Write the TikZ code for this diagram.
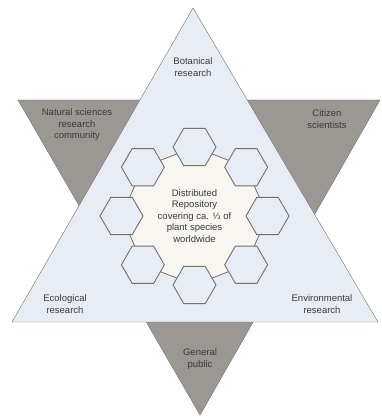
\documentclass[tikz,border=0pt]{standalone}
\usepackage{fontspec}
\setmainfont{Liberation Sans}
\newfontfamily\fracfont{DejaVu Sans}
\usetikzlibrary{shapes.geometric}

\definecolor{paleblue}{HTML}{E8EDF5}
\definecolor{stone}{HTML}{9B9792}
\definecolor{cream}{HTML}{F8F6F1}
\definecolor{linegray}{HTML}{707070}
\definecolor{textgray}{HTML}{3A3A3A}

\begin{document}
\begin{tikzpicture}[
  x=1pt,y=1pt,
  caption/.style={align=center,font=\fontsize{9.5}{11.5}\selectfont,text=textgray,inner sep=0pt},
  hexcell/.style={draw=linegray,line width=.9pt,fill=paleblue,regular polygon,
    regular polygon sides=6,minimum size=43pt,inner sep=0pt},
  wedge/.style={draw=linegray,line join=miter}
]
  \useasboundingbox (0,0) rectangle (381,417);

  % corners of both triangles
  \coordinate (dl) at (18,317);
  \coordinate (dr) at (380,317);
  \coordinate (db) at (200,2);
  \coordinate (ut) at (193,409);
  \coordinate (ul) at (12,95);
  \coordinate (ur) at (378,95);

  % user side (pointing down), research side (pointing up) on top
  \draw[wedge,fill=stone] (dl) -- (dr) -- (db) -- cycle;
  \draw[wedge,fill=paleblue] (ut) -- (ur) -- (ul) -- cycle;

  % ring of repository nodes
  \coordinate (hub) at (194.5,201);
  \foreach \i in {1,...,8}
    \path (hub) ++({73*cos(135-45*\i)},{69*sin(135-45*\i)}) coordinate (c\i);
  \draw[linegray,line width=.8pt,fill=cream]
    (c1) -- (c2) -- (c3) -- (c4) -- (c5) -- (c6) -- (c7) -- (c8) -- cycle;
  \foreach \i in {1,...,8}
    \node[hexcell] (h\i) at (c\i) {};

  \node[caption] (repo) at (hub) {Distributed\\Repository\\covering ca. {\fracfont\fontsize{8.5}{11.5}\selectfont ⅓} of\\plant species\\worldwide};

  % research fields
  \node[caption] (botany) at (193,350) {Botanical\\research};
  \node[caption] (ecology) at (65,113) {Ecological\\research};
  \node[caption] (environ) at (322,113) {Environmental\\research};

  % user groups
  \node[caption] (natsci) at (77,292) {Natural sciences\\research\\community};
  \node[caption] (citizen) at (327,298) {Citizen\\scientists};
  \node[caption] (public) at (200,58) {General\\public};
\end{tikzpicture}
\end{document}
